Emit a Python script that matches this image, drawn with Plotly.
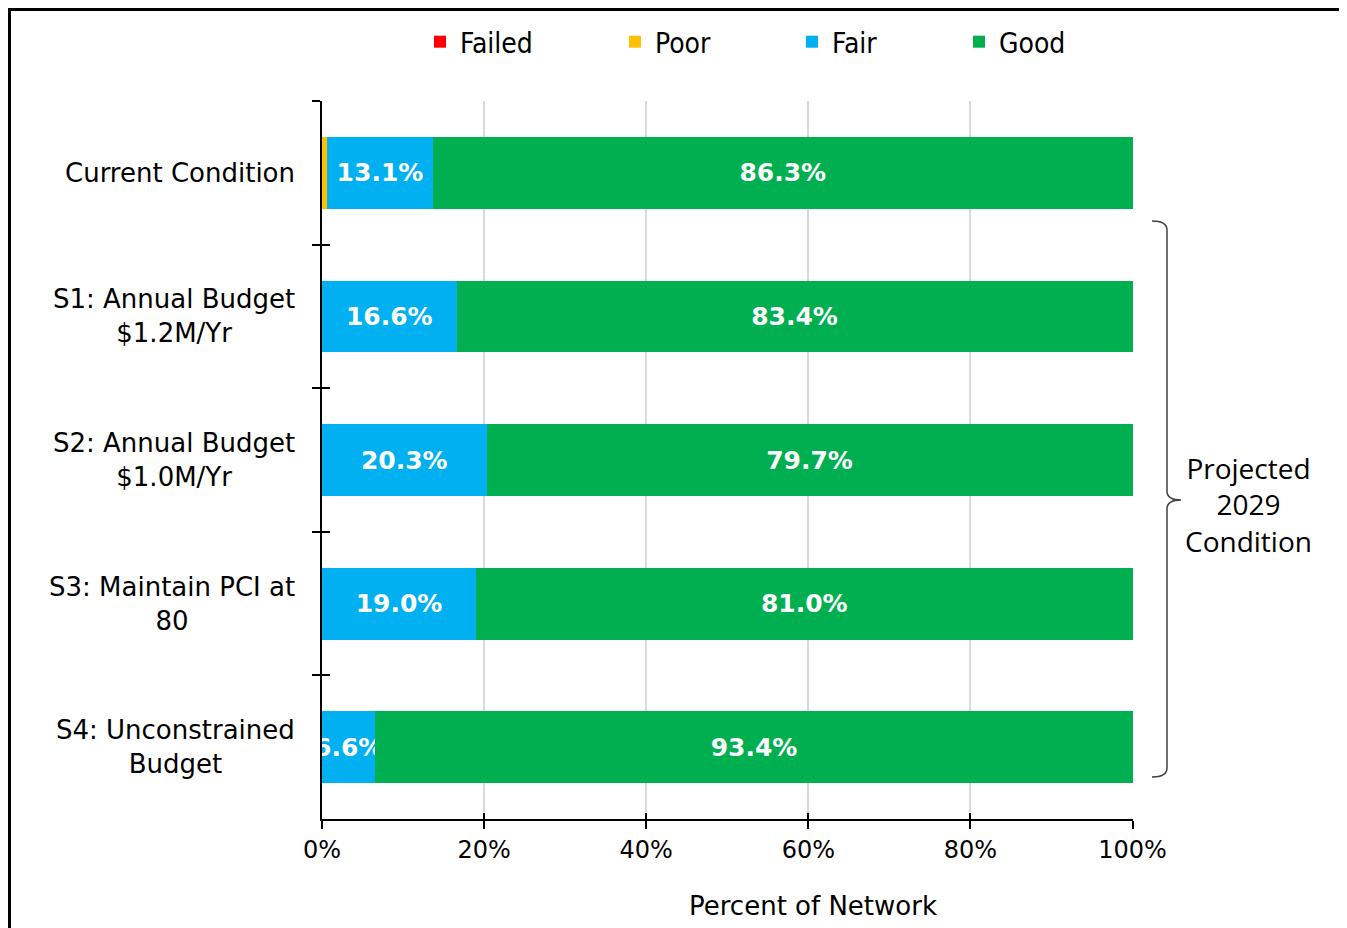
import plotly.graph_objects as go

# ---------------- data ----------------
categories = [
    "Current Condition",
    "S1: Annual Budget<br>$1.2M/Yr",
    "S2: Annual Budget<br>$1.0M/Yr",
    "S3: Maintain PCI at<br>80",
    "S4: Unconstrained<br>Budget",
]
failed = [0.0, 0.0, 0.0, 0.0, 0.0]
poor = [0.6, 0.0, 0.0, 0.0, 0.0]
fair = [13.1, 16.6, 20.3, 19.0, 6.6]
good = [86.3, 83.4, 79.7, 81.0, 93.4]
x_ticks = [0, 20, 40, 60, 80, 100]
x_tick_labels = ["0%", "20%", "40%", "60%", "80%", "100%"]

series = [
    ("Failed", failed, "#FF0000", False),
    ("Poor", poor, "#FFC000", False),
    ("Fair", fair, "#00B0F0", True),
    ("Good", good, "#00B050", True),
]

# ---------------- layout geometry (page pixels) ----------------
OFF = 8  # default page body margin
W, H = 1347 - OFF, 928 - OFF
L, R, T, B = 322, 1133, 101, 819  # plot area in page pixels
XMAX = 100.06  # tiny headroom so the 100% gridline is drawn


def px(x):
    return (x - L) / (R - L)


def py(y):
    return (B - y) / (B - T)


FONT = "DejaVu Sans, Verdana, sans-serif"

fig = go.Figure()
legend_names = ["legend", "legend2", "legend3", "legend4"]
for (name, vals, color, labelled), lg in zip(series, legend_names):
    fig.add_trace(
        go.Bar(
            name=name,
            y=categories,
            x=vals,
            orientation="h",
            marker=dict(color=color, line=dict(width=0)),
            text=[f"{v:.1f}%" for v in vals] if labelled else None,
            textposition="inside" if labelled else "none",
            insidetextanchor="middle",
            constraintext="none",
            textangle=0,
            textfont=dict(family=FONT, size=25, color="white", weight="bold"),
            cliponaxis=True,
            legend=lg,
            hoverinfo="skip",
        )
    )

# invisible helper traces so the overlay axes (crossing tick marks) are drawn
fig.add_trace(go.Scatter(x=[None], y=[categories[0]], xaxis="x2", yaxis="y",
                         mode="markers", showlegend=False, hoverinfo="skip"))
fig.add_trace(go.Scatter(x=[None], y=[None], xaxis="x", yaxis="y2",
                         mode="markers", showlegend=False, hoverinfo="skip"))

# legends placed individually
legend_text_px = [461, 656, 833, 1000]
legend_common = dict(
    orientation="h",
    yanchor="middle",
    y=py(42),
    xanchor="left",
    bgcolor="rgba(0,0,0,0)",
    borderwidth=0,
    font=dict(family="DejaVu Sans Condensed, Liberation Sans Narrow, DejaVu Sans, sans-serif",
              size=28, color="#000000"),
)
legend_layout = {}
for lg, tx in zip(legend_names, legend_text_px):
    legend_layout[lg] = dict(legend_common, x=px(tx - 41))

# y-axis category labels (centred lines, right edge at 297px)
annotations = []
for c in categories:
    annotations.append(
        dict(
            text=c,
            x=px(297),
            xref="paper",
            xanchor="right",
            y=c,
            yref="y",
            yanchor="middle",
            align="center",
            showarrow=False,
            font=dict(family=FONT, size=26, color="#000000"),
        )
    )

# axis title (offset as in reference)
annotations.append(
    dict(
        text="Percent of Network",
        x=px(813),
        xref="paper",
        xanchor="center",
        y=py(906),
        yref="paper",
        yanchor="middle",
        showarrow=False,
        font=dict(family=FONT, size=26, color="#000000"),
    )
)

# bracket label
annotations.append(
    dict(
        text="Projected<br>2029<br>Condition",
        x=px(1248),
        xref="paper",
        xanchor="center",
        y=py(505),
        yref="paper",
        yanchor="middle",
        align="center",
        showarrow=False,
        font=dict(family="Open Sans, Liberation Sans, sans-serif", size=28, color="#000000"),
    )
)


# curly bracket path (pixel geometry -> paper)
def P(x, y):
    return f"{px(x):.5f},{py(y):.5f}"


bracket = (
    f"M {P(1152,221)} Q {P(1167,221)} {P(1167,230)} "
    f"L {P(1167,491)} Q {P(1167,500)} {P(1181,500)} "
    f"Q {P(1167,500)} {P(1167,509)} "
    f"L {P(1167,768)} Q {P(1167,777)} {P(1152,777)}"
)

shapes = [
    dict(type="path", path=bracket, xref="paper", yref="paper",
         line=dict(color="#404040", width=1.5)),
    dict(type="rect", xref="paper", yref="paper",
         x0=px(OFF + 1.5), x1=px(1344), y0=py(940), y1=py(OFF + 1.5),
         line=dict(color="#000000", width=3), fillcolor="rgba(0,0,0,0)"),
]

fig.update_layout(
    width=W,
    height=H,
    margin=dict(l=L - OFF, r=W - (R - OFF), t=T - OFF, b=H - (B - OFF), pad=0,
                autoexpand=False),
    paper_bgcolor="white",
    plot_bgcolor="white",
    barmode="stack",
    bargap=0.5,
    showlegend=True,
    annotations=annotations,
    shapes=shapes,
    xaxis=dict(
        range=[0, XMAX],
        tickvals=x_ticks,
        ticktext=x_tick_labels,
        showgrid=True,
        gridcolor="#D9D9D9",
        gridwidth=2,
        zeroline=False,
        showline=True,
        linecolor="#000000",
        linewidth=2,
        ticks="outside",
        ticklen=8,
        tickwidth=2,
        tickcolor="#000000",
        tickfont=dict(family=FONT, size=24, color="#000000"),
        fixedrange=True,
    ),
    xaxis2=dict(
        overlaying="x",
        anchor="y",
        side="bottom",
        range=[0, XMAX],
        tickvals=x_ticks,
        showticklabels=False,
        showgrid=False,
        zeroline=False,
        showline=False,
        ticks="inside",
        ticklen=6,
        tickwidth=2,
        tickcolor="#000000",
        fixedrange=True,
    ),
    yaxis=dict(
        type="category",
        categoryorder="array",
        categoryarray=categories,
        range=[len(categories) - 0.5, -0.5],
        showticklabels=False,
        showgrid=False,
        zeroline=False,
        showline=True,
        linecolor="#000000",
        linewidth=2,
        ticks="outside",
        tickson="boundaries",
        ticklen=8,
        tickwidth=2,
        tickcolor="#000000",
        fixedrange=True,
    ),
    yaxis2=dict(
        overlaying="y",
        anchor="x",
        side="left",
        range=[len(categories) - 0.5, -0.5],
        tickvals=[i - 0.5 for i in range(len(categories) + 1)],
        showticklabels=False,
        showgrid=False,
        zeroline=False,
        showline=False,
        ticks="inside",
        ticklen=8,
        tickwidth=2,
        tickcolor="#000000",
        fixedrange=True,
    ),
    **legend_layout,
)

fig.write_html("out.html")
